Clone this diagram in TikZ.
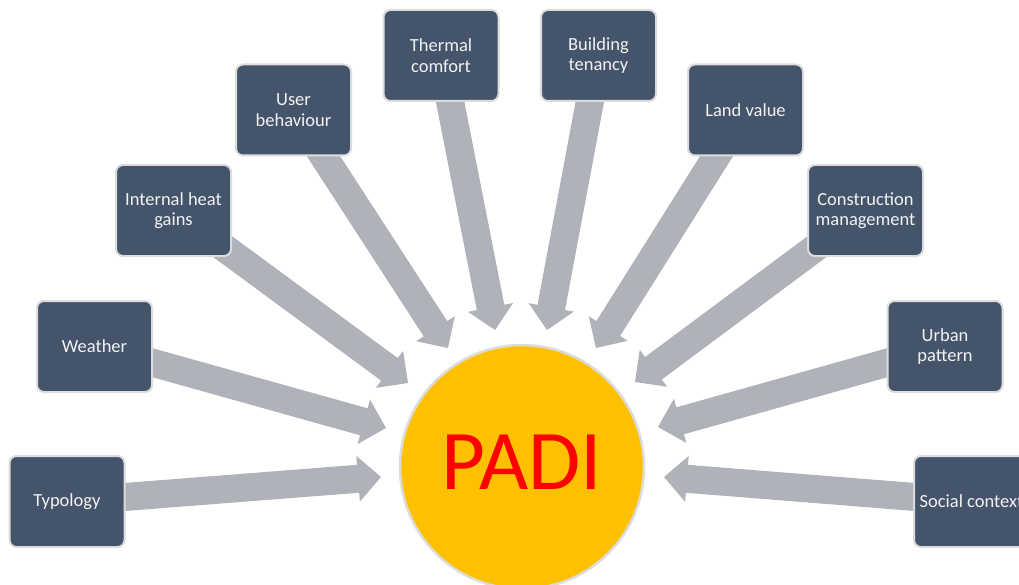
\documentclass[tikz,border=0pt]{standalone}
\usepackage{fontspec}
\setmainfont{Carlito}
\usetikzlibrary{calc}
\definecolor{boxfill}{HTML}{44546A}
\definecolor{boxline}{HTML}{DCDCDC}
\definecolor{arrowgray}{HTML}{AFB2B8}
\definecolor{padiyellow}{HTML}{FFC000}
\definecolor{padired}{HTML}{FF0000}
\newcommand\padiArrow[2]{%
  \coordinate (tmpb) at ($(#2)!23pt!(#1.center)$);
  \fill[arrowgray] ($(#1.center)!14pt!90:(#2)$) -- ($(tmpb)!14pt!90:(#2)$) -- ($(tmpb)!23pt!90:(#2)$) -- (#2)
     -- ($(tmpb)!23pt!-90:(#2)$) -- ($(tmpb)!14pt!-90:(#2)$) -- ($(#1.center)!14pt!-90:(#2)$) -- cycle;
}
\tikzset{
  factor/.style={draw=boxline, line width=2pt, fill=boxfill, rounded corners=7pt,
    minimum width=115pt, minimum height=91pt, inner sep=0pt, text=white!95!black,
    align=center, font=\fontsize{18.5}{20.5}\selectfont},
  hub/.style={circle, draw=boxline, line width=2.5pt, fill=padiyellow, minimum size=244pt, inner sep=0pt},
  hublabel/.style={text=padired, font=\fontsize{85}{85}\selectfont, inner sep=0pt}
}
\begin{document}
\begin{tikzpicture}[x=1pt,y=-1pt]
\useasboundingbox (0,0) rectangle (1019,585);
\clip (0,0) rectangle (1019,585);
% tips
\coordinate (tTy) at (381,477);
\coordinate (tWe) at (386,428);
\coordinate (tIh) at (408,383);
\coordinate (tUb) at (448,348);
\coordinate (tTc) at (495,330);
\coordinate (tBt) at (547,330);
\coordinate (tLv) at (596,348);
\coordinate (tCm) at (635,382);
\coordinate (tUp) at (658,427);
\coordinate (tSc) at (664,477);
% box centres
\coordinate (cTy) at (67,501.5);
\coordinate (cWe) at (94.5,346.5);
\coordinate (cIh) at (173.5,210.5);
\coordinate (cUb) at (293.5,110);
\coordinate (cTc) at (441,55.5);
\coordinate (cBt) at (598.5,55.5);
\coordinate (cLv) at (745.5,110);
\coordinate (cCm) at (865.5,210.5);
\coordinate (cUp) at (945,346.5);
\coordinate (cSc) at (971.5,501.5);
% arrows
\padiArrow{cTy}{tTy}
\padiArrow{cWe}{tWe}
\padiArrow{cIh}{tIh}
\padiArrow{cUb}{tUb}
\padiArrow{cTc}{tTc}
\padiArrow{cBt}{tBt}
\padiArrow{cLv}{tLv}
\padiArrow{cCm}{tCm}
\padiArrow{cUp}{tUp}
\padiArrow{cSc}{tSc}
% boxes
\node[factor] (ty) at (cTy) {Typology};
\node[factor] (we) at (cWe) {Weather};
\node[factor] (ih) at (cIh) {Internal heat\\gains};
\node[factor] (ub) at (cUb) {User\\behaviour};
\node[factor] (tc) at (cTc) {Thermal\\comfort};
\node[factor] (bt) at (cBt) {Building\\tenancy};
\node[factor] (lv) at (cLv) {Land value};
\node[factor] (cm) at (cCm) {Construction\\management};
\node[factor] (up) at (cUp) {Urban\\pattern};
\node[factor] (sc) at (cSc) {Social context};
% hub
\node[hub] (padi) at (522,467) {};
\node[hublabel] (paditext) at (522,462.5) {PADI};
\end{tikzpicture}
\end{document}
